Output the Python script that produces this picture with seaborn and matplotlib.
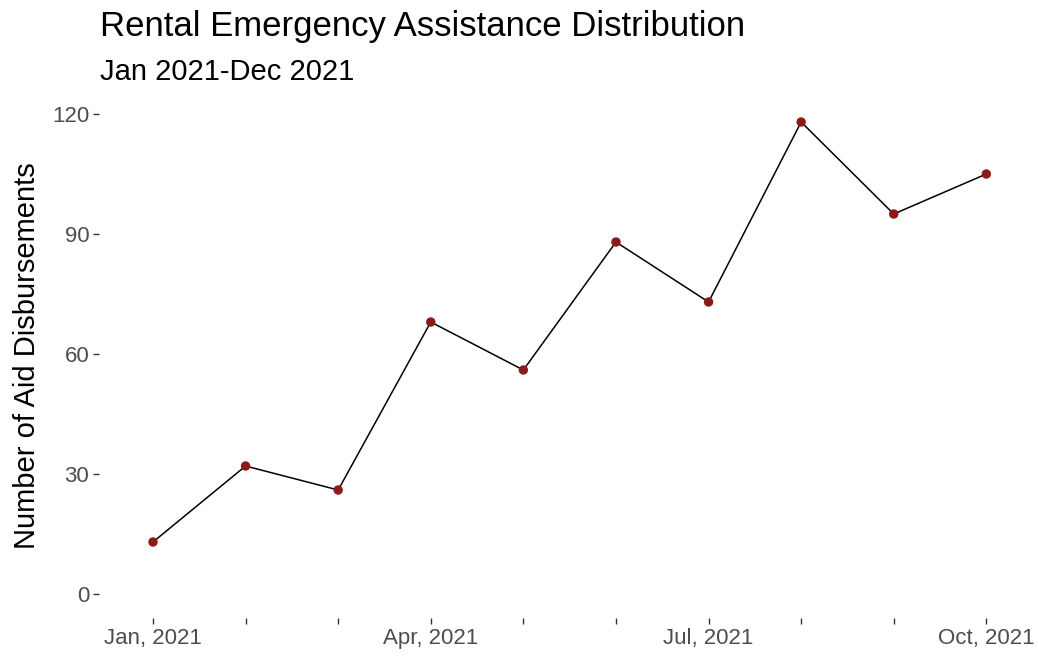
import pandas as pd
import seaborn as sns
import matplotlib.pyplot as plt

# data
months = ['Jan, 2021', 'Feb, 2021', 'Mar, 2021', 'Apr, 2021', 'May, 2021',
          'Jun, 2021', 'Jul, 2021', 'Aug, 2021', 'Sep, 2021', 'Oct, 2021']
disbursements = [13, 32, 26, 68, 56, 88, 73, 118, 95, 105]
labelled_months = ['Jan, 2021', 'Apr, 2021', 'Jul, 2021', 'Oct, 2021']
y_ticks = [0, 30, 60, 90, 120]

df = pd.DataFrame({'month': months, 'count': disbursements})
df['pos'] = range(len(df))

sns.set_theme(style='white')
plt.rcParams['font.family'] = ['Liberation Sans', 'DejaVu Sans']

fig = plt.figure(figsize=(10.38, 6.58), dpi=100)
ax = fig.add_axes([99 / 1038, 1 - 618 / 658, (1028 - 99) / 1038, (618 - 90) / 658])

sns.lineplot(data=df, x='pos', y='count', color='black', linewidth=1.1, ax=ax)
sns.scatterplot(data=df, x='pos', y='count', color='#8B1A1A', s=46,
                edgecolor='none', zorder=3, ax=ax)

ax.set_ylim(-6, 126)
ax.set_xlim(-0.583, 9.45)
ax.set_yticks(y_ticks)
ax.set_xticks(df['pos'])
ax.set_xticklabels([m if m in labelled_months else '' for m in df['month']])

for s in ax.spines.values():
    s.set_visible(False)
ax.tick_params(axis='both', which='both', length=4, width=1, color='#333333',
               labelcolor='#4D4D4D', labelsize=16, direction='out', pad=3,
               bottom=True, left=True)
ax.set_xlabel('')
ax.set_ylabel('')

fig.text(27 / 1038, 1 - 356 / 658, 'Number of Aid Disbursements', rotation=90,
         ha='center', va='center', fontsize=21, color='black')
fig.text(100 / 1038, 1 - 36 / 658, 'Rental Emergency Assistance Distribution',
         ha='left', va='baseline', fontsize=25, color='black')
fig.text(100 / 1038, 1 - 80 / 658, 'Jan 2021-Dec 2021',
         ha='left', va='baseline', fontsize=21, color='black')

fig.savefig('out.png', dpi=100)
